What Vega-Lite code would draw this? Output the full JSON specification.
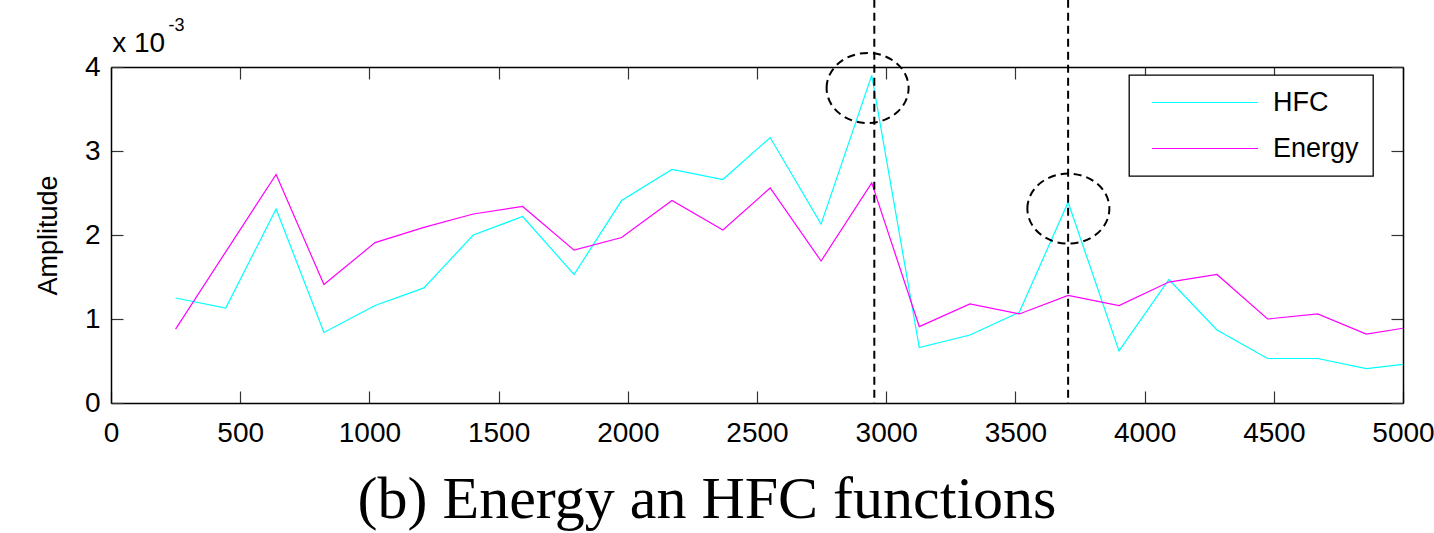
{
  "$schema": "https://vega.github.io/schema/vega-lite/v6.json",
  "autosize": "none",
  "width": 1292,
  "height": 336,
  "padding": {"left": 111, "top": 67, "right": 31, "bottom": 130},
  "background": "white",
  "title": {
    "text": "(b) Energy an HFC functions",
    "orient": "bottom",
    "anchor": "middle",
    "font": "Liberation Serif",
    "fontSize": 60,
    "fontWeight": "normal",
    "color": "black",
    "dx": -50,
    "offset": 24
  },
  "config": {
    "view": {"stroke": null},
    "axis": {
      "grid": false,
      "domainColor": "black",
      "domainWidth": 1.5,
      "tickColor": "#333333",
      "tickWidth": 1.2,
      "labelFont": "Liberation Sans",
      "labelFontSize": 28,
      "labelColor": "black",
      "titleFont": "Liberation Sans",
      "titleFontSize": 27,
      "titleFontWeight": "normal",
      "titleColor": "black"
    },
    "legend": {
      "orient": "none",
      "legendX": 1018,
      "legendY": 8,
      "direction": "vertical",
      "fillColor": "white",
      "strokeColor": "black",
      "strokeWidth": 1.3,
      "padding": 14,
      "symbolType": "stroke",
      "symbolSize": 11236,
      "symbolStrokeWidth": 1.2,
      "symbolOffset": 8,
      "labelOffset": 14,
      "labelFont": "Liberation Sans",
      "labelFontSize": 27,
      "labelColor": "black",
      "rowPadding": 18,
      "clipHeight": 27
    }
  },
  "datasets": {
    "series": [
      {"freq": 250, "series": "HFC", "amp": 0.00125},
      {"freq": 444, "series": "HFC", "amp": 0.00113},
      {"freq": 639, "series": "HFC", "amp": 0.00231},
      {"freq": 824, "series": "HFC", "amp": 0.00084},
      {"freq": 1022, "series": "HFC", "amp": 0.00116},
      {"freq": 1211, "series": "HFC", "amp": 0.00137},
      {"freq": 1402, "series": "HFC", "amp": 0.002},
      {"freq": 1593, "series": "HFC", "amp": 0.00222},
      {"freq": 1792, "series": "HFC", "amp": 0.00153},
      {"freq": 1976, "series": "HFC", "amp": 0.00241},
      {"freq": 2171, "series": "HFC", "amp": 0.00278},
      {"freq": 2368, "series": "HFC", "amp": 0.00266},
      {"freq": 2551, "series": "HFC", "amp": 0.00316},
      {"freq": 2748, "series": "HFC", "amp": 0.00213},
      {"freq": 2944, "series": "HFC", "amp": 0.0039},
      {"freq": 3128, "series": "HFC", "amp": 0.00066},
      {"freq": 3324, "series": "HFC", "amp": 0.00081},
      {"freq": 3515, "series": "HFC", "amp": 0.00108},
      {"freq": 3704, "series": "HFC", "amp": 0.00239},
      {"freq": 3901, "series": "HFC", "amp": 0.00062},
      {"freq": 4094, "series": "HFC", "amp": 0.00147},
      {"freq": 4280, "series": "HFC", "amp": 0.00087},
      {"freq": 4476, "series": "HFC", "amp": 0.00053},
      {"freq": 4670, "series": "HFC", "amp": 0.00053},
      {"freq": 4858, "series": "HFC", "amp": 0.00041},
      {"freq": 5000, "series": "HFC", "amp": 0.00046},
      {"freq": 250, "series": "Energy", "amp": 0.00088},
      {"freq": 444, "series": "Energy", "amp": 0.0018},
      {"freq": 639, "series": "Energy", "amp": 0.00272},
      {"freq": 824, "series": "Energy", "amp": 0.00141},
      {"freq": 1022, "series": "Energy", "amp": 0.00191},
      {"freq": 1211, "series": "Energy", "amp": 0.00209},
      {"freq": 1402, "series": "Energy", "amp": 0.00225},
      {"freq": 1593, "series": "Energy", "amp": 0.00234},
      {"freq": 1792, "series": "Energy", "amp": 0.00182},
      {"freq": 1976, "series": "Energy", "amp": 0.00197},
      {"freq": 2171, "series": "Energy", "amp": 0.00241},
      {"freq": 2368, "series": "Energy", "amp": 0.00206},
      {"freq": 2551, "series": "Energy", "amp": 0.00256},
      {"freq": 2748, "series": "Energy", "amp": 0.00169},
      {"freq": 2944, "series": "Energy", "amp": 0.00262},
      {"freq": 3128, "series": "Energy", "amp": 0.00091},
      {"freq": 3324, "series": "Energy", "amp": 0.00118},
      {"freq": 3515, "series": "Energy", "amp": 0.00106},
      {"freq": 3704, "series": "Energy", "amp": 0.00128},
      {"freq": 3901, "series": "Energy", "amp": 0.00116},
      {"freq": 4094, "series": "Energy", "amp": 0.00144},
      {"freq": 4280, "series": "Energy", "amp": 0.00153},
      {"freq": 4476, "series": "Energy", "amp": 0.001},
      {"freq": 4670, "series": "Energy", "amp": 0.00106},
      {"freq": 4858, "series": "Energy", "amp": 0.00082},
      {"freq": 5000, "series": "Energy", "amp": 0.00089}
    ],
    "markers": [
      {"freq": 2954},
      {"freq": 3704}
    ],
    "circles": [
      {"freq": 2928, "amp": 0.00375},
      {"freq": 3705, "amp": 0.002314}
    ]
  },
  "layer": [
    {
      "data": {"name": "series"},
      "mark": {"type": "line", "strokeWidth": 1.2, "clip": true},
      "encoding": {
        "x": {
          "field": "freq",
          "type": "quantitative",
          "scale": {"domain": [0, 5000], "nice": false},
          "axis": {
            "orient": "bottom",
            "title": null,
            "values": [0, 500, 1000, 1500, 2000, 2500, 3000, 3500, 4000, 4500, 5000],
            "format": "d",
            "tickSize": -12,
            "labelPadding": 28,
            "labelFlush": false
          }
        },
        "y": {
          "field": "amp",
          "type": "quantitative",
          "scale": {"domain": [0, 0.004], "nice": false},
          "axis": {
            "orient": "left",
            "title": "Amplitude",
            "values": [0, 0.001, 0.002, 0.003, 0.004],
            "labelExpr": "format(datum.value * 1000, '.0f')",
            "tickSize": -12,
            "labelPadding": 23,
            "titlePadding": 22
          }
        },
        "color": {
          "field": "series",
          "type": "nominal",
          "scale": {"domain": ["HFC", "Energy"], "range": ["#00FFFF", "#FF00FF"]},
          "legend": {"title": null}
        }
      }
    },
    {
      "data": {"name": "markers"},
      "mark": {"type": "rule", "color": "black", "strokeWidth": 2, "strokeDash": [8, 5]},
      "encoding": {
        "x": {"field": "freq", "type": "quantitative", "scale": {"domain": [0, 5000], "nice": false}, "axis": null},
        "y": {"datum": 0.0048, "type": "quantitative", "scale": {"domain": [0, 0.004], "nice": false}, "axis": null},
        "y2": {"datum": 0}
      }
    },
    {
      "data": {"name": "circles"},
      "mark": {
        "type": "point",
        "shape": "M -1 0 A 1 0.854 0 1 1 1 0 A 1 0.854 0 1 1 -1 0 Z",
        "size": 6724,
        "filled": false,
        "stroke": "black",
        "strokeWidth": 2,
        "strokeDash": [8, 5],
        "opacity": 1
      },
      "encoding": {
        "x": {
          "field": "freq",
          "type": "quantitative",
          "scale": {"domain": [0, 5000], "nice": false},
          "axis": {
            "orient": "top",
            "labels": false,
            "values": [0, 500, 1000, 1500, 2000, 2500, 3000, 3500, 4000, 4500, 5000],
            "tickSize": -12,
            "title": "x 10",
            "titleAngle": 0,
            "titleAlign": "left",
            "titleBaseline": "alphabetic",
            "titleX": 0.7,
            "titleY": -16,
            "titleFontSize": 28
          }
        },
        "y": {
          "field": "amp",
          "type": "quantitative",
          "scale": {"domain": [0, 0.004], "nice": false},
          "axis": {
            "orient": "right",
            "labels": false,
            "values": [0, 0.001, 0.002, 0.003, 0.004],
            "tickSize": -12,
            "title": "-3",
            "titleAngle": 0,
            "titleAlign": "left",
            "titleBaseline": "alphabetic",
            "titleX": -1235,
            "titleY": -37,
            "titleFontSize": 18
          }
        }
      }
    }
  ],
  "resolve": {"axis": {"x": "independent", "y": "independent"}}
}
